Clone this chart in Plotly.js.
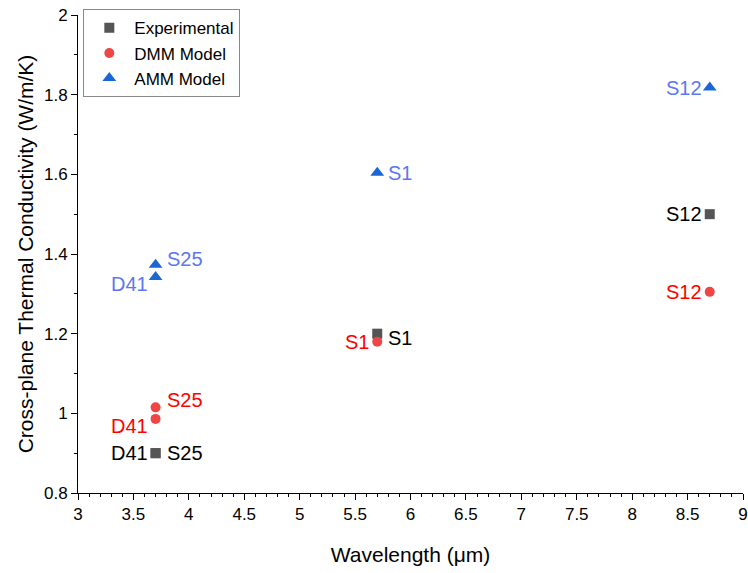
<!DOCTYPE html>
<html>
<head>
<meta charset="utf-8">
<script src="https://cdn.plot.ly/plotly-3.0.1.min.js"></script>
<style>
  html, body { margin: 0; padding: 0; background: #fff; }
  #chart { width: 748px; height: 573px; }
</style>
</head>
<body>
<div id="chart"></div>
<script>
// Samples and their emission wavelength (µm)
const samples = ['S25', 'D41', 'S1', 'S12'];
const wavelength = [3.7, 3.7, 5.7, 8.7];

// Cross-plane thermal conductivity (W/m/K)
const experimental = [0.9, 0.9, 1.2, 1.5];
const dmmModel = [1.015, 0.986, 1.18, 1.305];
const ammModel = [1.373, 1.342, 1.604, 1.818];

const FONT = 'Arial, "Liberation Sans", sans-serif';

const series = [
  { name: 'Experimental', y: experimental, symbol: 'square', size: 10, marker: '#555555', label: '#000000' },
  { name: 'DMM Model',    y: dmmModel,     symbol: 'circle', size: 10, marker: '#f04545', label: '#ff0000' },
  { name: 'AMM Model',    y: ammModel,     symbol: 'triangle-up', size: 12, marker: '#1a66d6', label: '#5b78f2' }
];

const traces = series.map(s => ({
  type: 'scatter',
  mode: 'markers',
  name: s.name,
  x: wavelength,
  y: s.y,
  marker: { symbol: s.symbol, size: s.size, color: s.marker, line: { width: 0 } },
  hoverinfo: 'x+y'
}));

// Which side of its marker each sample label sits on, per series,
// plus a small vertical nudge where two markers share a column.
const placement = {
  'Experimental': { S25: ['right', 0], D41: ['left', 0],  S1: ['right', -4], S12: ['left', 0] },
  'DMM Model':    { S25: ['right', 7], D41: ['left', -7], S1: ['left', 0],   S12: ['left', 0] },
  'AMM Model':    { S25: ['right', 6], D41: ['left', -7], S1: ['right', 0],  S12: ['left', 0] }
};

const annotations = [];
series.forEach(s => {
  samples.forEach((name, i) => {
    const [side, dy] = placement[s.name][name];
    annotations.push({
      x: wavelength[i], y: s.y[i], xref: 'x', yref: 'y',
      text: name, showarrow: false,
      xanchor: side === 'right' ? 'left' : 'right',
      yanchor: 'middle',
      xshift: side === 'right' ? 9 : -6,
      yshift: dy,
      font: { family: FONT, size: 20, color: s.label }
    });
  });
});

const layout = {
  width: 748, height: 573,
  margin: { l: 78, r: 5, t: 15, b: 80 },
  paper_bgcolor: '#ffffff', plot_bgcolor: '#ffffff',
  font: { family: FONT, color: '#000' },
  showlegend: true,
  legend: {
    x: 0.008, y: 1.012, xanchor: 'left', yanchor: 'top',
    bgcolor: 'rgba(255,255,255,0)', bordercolor: '#888888', borderwidth: 1,
    font: { family: FONT, size: 17, color: '#000' },
    itemwidth: 40, tracegroupgap: 0
  },
  xaxis: {
    range: [3, 9], dtick: 0.5, tick0: 3,
    showgrid: false, zeroline: false,
    showline: true, linecolor: '#000', linewidth: 1, mirror: false,
    ticks: 'outside', ticklen: 6, tickwidth: 1, tickcolor: '#000',
    minor: { dtick: 0.1, ticks: 'outside', ticklen: 3, tickcolor: '#000', showgrid: false },
    tickfont: { family: FONT, size: 17, color: '#000' },
    title: { text: 'Wavelength (μm)', font: { family: FONT, size: 21, color: '#000' }, standoff: 23 }
  },
  yaxis: {
    range: [0.8, 2], dtick: 0.2, tick0: 0.8,
    showgrid: false, zeroline: false,
    showline: true, linecolor: '#000', linewidth: 1, mirror: false,
    ticks: 'outside', ticklen: 6, tickwidth: 1, tickcolor: '#000',
    minor: { dtick: 0.1, ticks: 'outside', ticklen: 3, tickcolor: '#000', showgrid: false },
    tickfont: { family: FONT, size: 17, color: '#000' },
    title: { text: 'Cross-plane Thermal Conductivity (W/m/K)', font: { family: FONT, size: 21, color: '#000' }, standoff: 4 }
  },
  annotations: annotations
};

Plotly.newPlot('chart', traces, layout, { displayModeBar: false, staticPlot: true });
</script>
</body>
</html>
